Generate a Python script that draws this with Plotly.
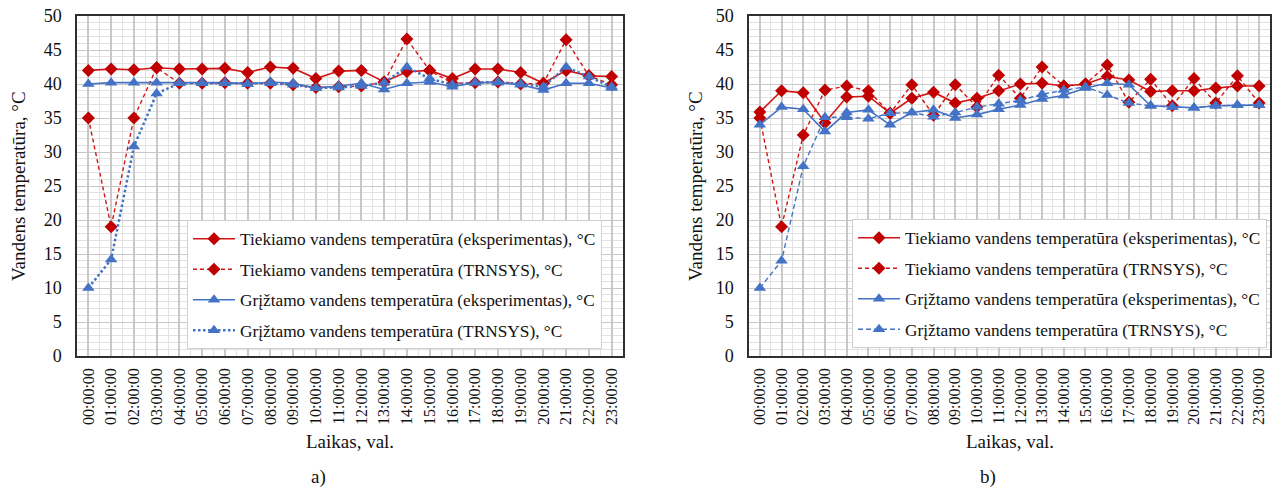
import plotly.graph_objects as go

hours = ["%02d:00:00" % h for h in range(24)]

# Chart a)
supply_exp_a = [42.0, 42.2, 42.1, 42.4, 42.2, 42.2, 42.3, 41.7, 42.5, 42.3, 40.8, 41.9,
                42.0, 40.3, 41.8, 42.0, 40.8, 42.2, 42.2, 41.7, 40.1, 42.0, 41.2, 41.1]
supply_trn_a = [35.0, 19.0, 35.0, 42.4, 40.1, 40.1, 40.2, 40.1, 40.1, 39.9, 39.5, 39.6,
                39.7, 40.3, 46.6, 42.0, 40.1, 40.2, 40.3, 40.0, 40.1, 46.5, 41.2, 39.9]
return_exp_a = [40.0, 40.2, 40.2, 40.2, 40.2, 40.2, 40.2, 40.0, 40.3, 40.1, 39.4, 39.7,
                40.1, 39.2, 40.1, 40.3, 39.6, 40.2, 40.2, 39.9, 39.1, 40.1, 40.1, 39.4]
return_trn_a = [10.0, 14.2, 30.8, 38.6, 40.1, 40.1, 40.1, 40.0, 40.1, 39.9, 39.4, 39.5,
                39.7, 40.2, 42.5, 40.8, 39.9, 40.2, 40.3, 40.0, 39.6, 42.5, 41.1, 39.6]

# Chart b)
supply_exp_b = [35.9, 39.0, 38.7, 34.3, 38.1, 38.2, 35.7, 37.9, 38.8, 37.2, 37.9, 39.0,
                40.0, 40.1, 39.7, 40.0, 41.1, 40.6, 38.9, 39.0, 39.0, 39.4, 39.7, 39.7]
supply_trn_b = [35.0, 19.0, 32.5, 39.1, 39.7, 39.0, 35.7, 39.9, 35.4, 39.9, 36.6, 41.3,
                37.9, 42.5, 39.7, 40.0, 42.8, 37.3, 40.7, 36.8, 40.8, 37.2, 41.2, 37.2]
return_exp_b = [34.0, 36.6, 36.3, 33.0, 35.8, 36.2, 34.0, 35.8, 36.2, 35.0, 35.5, 36.3,
                36.9, 37.8, 38.3, 39.4, 40.1, 39.9, 36.8, 36.6, 36.5, 36.8, 36.9, 36.9]
return_trn_b = [10.0, 14.0, 27.9, 35.1, 35.1, 34.9, 35.7, 35.8, 35.2, 35.8, 36.6, 37.1,
                37.6, 38.5, 39.1, 39.6, 38.4, 37.2, 36.8, 36.6, 36.5, 36.8, 36.9, 36.9]

names = ["Tiekiamo vandens temperatūra (eksperimentas), °C",
         "Tiekiamo vandens temperatūra (TRNSYS), °C",
         "Grįžtamo vandens temperatūra (eksperimentas), °C",
         "Grįžtamo vandens temperatūra (TRNSYS), °C"]

RED_M = "#C00000"
RED_L = "#D41414"
BLUE = "#4472C4"
FONT = "Liberation Serif, Times New Roman, Tinos, DejaVu Serif, serif"

W, H = 1272, 490


def px(xp):
    return xp / W


def py(yp):
    return 1 - yp / H


x = list(range(len(hours)))
fig = go.Figure()


def add_set(series, xa, ya, leg, blue_dash, blue_w, suffix):
    styles = [
        (RED_L, RED_M, "solid", "diamond", 1.6, 10),
        (RED_L, RED_M, "4px,3px", "diamond", 1.4, 10),
        (BLUE, BLUE, "solid", "triangle-up", 1.6, 11),
        (BLUE, BLUE, blue_dash, "triangle-up", blue_w, 11),
    ]
    for i, (vals, (lc, mc, d, sym, w, ms)) in enumerate(zip(series, styles)):
        fig.add_trace(go.Scatter(
            x=x, y=vals, name=names[i], mode="lines+markers",
            line=dict(color=lc, dash=d, width=w),
            marker=dict(symbol=sym, size=ms, color=mc),
            xaxis=xa, yaxis=ya, legend=leg, legendgroup=suffix + str(i),
        ))


add_set([supply_exp_a, supply_trn_a, return_exp_a, return_trn_a],
        "x", "y", "legend", "2.5px,2.5px", 2.5, "a")
add_set([supply_exp_b, supply_trn_b, return_exp_b, return_trn_b],
        "x2", "y2", "legend2", "5px,3px", 1.4, "b")

ydom = [py(356), py(16)]
xcommon = dict(
    range=[-0.5, len(hours) - 0.5], tickmode="array", tickvals=x, ticktext=hours,
    tickangle=-90, showgrid=True, gridcolor="#c8c8c8", gridwidth=1.5,
    minor=dict(tick0=0.5, dtick=1, showgrid=True, gridcolor="#e2e2e2", gridwidth=1),
    showline=True, mirror=True, linecolor="#303030", linewidth=1.5,
    zeroline=False, ticks="", tickfont=dict(family=FONT, size=16, color="#111"),
    ticklabelstandoff=4, automargin=False,
)
ycommon = dict(
    range=[0, 50], tickmode="linear", tick0=0, dtick=5, domain=ydom,
    showgrid=True, gridcolor="#c8c8c8", gridwidth=1,
    minor=dict(dtick=1, showgrid=True, gridcolor="#e2e2e2", gridwidth=1),
    showline=True, mirror=True, linecolor="#303030", linewidth=1.5,
    zeroline=False, ticks="", tickfont=dict(family=FONT, size=18, color="#111"),
    ticklabelstandoff=10, automargin=False,
)

legcommon = dict(
    bgcolor="white", bordercolor="#d0d0d0", borderwidth=1,
    font=dict(family=FONT, size=17.3, color="#111"),
    xanchor="left", yanchor="top", traceorder="grouped", tracegroupgap=5,
    itemwidth=42,
)

fig.update_layout(
    width=W, height=H, margin=dict(l=0, r=0, t=0, b=0, autoexpand=False),
    paper_bgcolor="white", plot_bgcolor="white",
    xaxis=dict(domain=[px(77), px(623)], anchor="y", **xcommon),
    yaxis=dict(anchor="x", **ycommon),
    xaxis2=dict(domain=[px(749), px(1270)], anchor="y2", **xcommon),
    yaxis2=dict(anchor="x2", **ycommon),
    legend=dict(x=px(187), y=py(220), **legcommon),
    legend2=dict(x=px(852), y=py(219), **legcommon),
    showlegend=True,
)

ann_font = dict(family=FONT, size=19, color="#111")
for xc, yt_x, cap_x, cap in [(350, 18, 318, "a)"), (1010, 695, 988, "b)")]:
    fig.add_annotation(x=px(yt_x), y=py(186), xref="paper", yref="paper",
                       text="Vandens temperatūra, °C", textangle=-90,
                       showarrow=False, font=ann_font, xanchor="center", yanchor="middle")
    fig.add_annotation(x=px(xc), y=py(441), xref="paper", yref="paper",
                       text="Laikas, val.", showarrow=False, font=ann_font,
                       xanchor="center", yanchor="middle")
    fig.add_annotation(x=px(cap_x), y=py(477), xref="paper", yref="paper",
                       text=cap, showarrow=False, font=ann_font,
                       xanchor="center", yanchor="middle")

fig.write_html(
    "out.html",
    config={"displayModeBar": False},
    post_script="document.body.style.margin='0';document.body.style.overflow='hidden';",
)
